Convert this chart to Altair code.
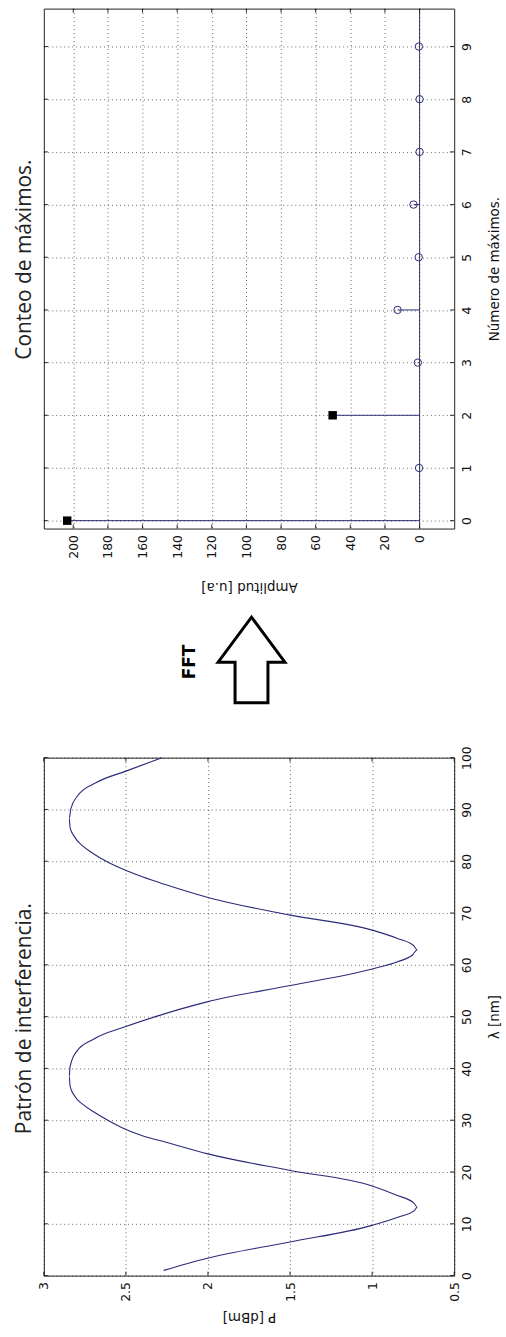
import altair as alt
import pandas as pd

# Interference pattern: optical power versus wavelength
wavelength_nm = [1, 3.3, 6.5, 9.7, 11.4, 12.5, 13.2, 14.0, 15.5, 17.3, 20.3, 23.5,
                 25.7, 27.0, 28.5, 30.0, 31.5, 33.0, 34.8, 36.6, 38.5, 40.4, 43.3,
                 45.6, 48.1, 50.1, 52.9, 56.0, 59.2, 60.6, 61.9, 62.9, 63.8, 65.1,
                 66.7, 69.6, 73.0, 75.5, 77.0, 78.5, 80.0, 81.5, 83.0, 84.8, 86.5,
                 88.3, 90.2, 92.8, 95.2, 97.4, 100]
power_dbm = [2.27, 2.01, 1.50, 1.00, 0.83, 0.745, 0.725, 0.745, 0.85, 1.00, 1.50, 2.00,
             2.25, 2.40, 2.52, 2.61, 2.69, 2.76, 2.815, 2.84, 2.845, 2.84, 2.80,
             2.70, 2.50, 2.31, 2.00, 1.50, 1.00, 0.845, 0.755, 0.725, 0.75, 0.845,
             1.00, 1.50, 2.00, 2.26, 2.40, 2.52, 2.62, 2.70, 2.765, 2.815, 2.84,
             2.845, 2.835, 2.79, 2.68, 2.50, 2.28]

# FFT magnitude for each harmonic index
max_index = [0, 1, 2, 3, 4, 5, 6, 7, 8, 9]
amplitude = [203.5, 0.3, 50.2, 1.0, 12.7, 0.5, 3.5, 0.0, 0.0, 0.4]
peak_index = [0, 2]

# Tick values
lam_ticks = [0, 10, 20, 30, 40, 50, 60, 70, 80, 90, 100]
p_ticks = [0.5, 1, 1.5, 2, 2.5, 3]
n_ticks = [0, 1, 2, 3, 4, 5, 6, 7, 8, 9]
amp_ticks = [0, 20, 40, 60, 80, 100, 120, 140, 160, 180, 200]

LINE = "#2b2b7a"
FRAME = "#222222"
W, H_TOP, H_BOT = 412, 522, 520
GAP = 230
TICK = 4

axis_style = dict(
    grid=True, gridColor="#000000", gridOpacity=0.6, gridDash=[1, 3], gridWidth=1,
    ticks=False, tickSize=0, domain=False,
    labelFont="DejaVu Sans", labelFontSize=12.5, labelColor="#111111",
    labelFlush=False, labelOverlap=False,
    titleFont="DejaVu Sans", titleFontSize=13.5, titleFontWeight="normal",
    titleColor="#111111",
)


def bottom_axis(values, title, title_pad, fmt):
    return alt.Axis(orient="bottom", values=values, format=fmt, labelAngle=270,
                    labelAlign="right", labelBaseline="middle", labelPadding=6,
                    title=title, titleAngle=180, titleBaseline="bottom",
                    titlePadding=title_pad, **axis_style)


def right_axis(values, title, fmt):
    return alt.Axis(orient="right", values=values, format=fmt, labelAngle=270,
                    labelAlign="center", labelBaseline="top", labelPadding=6,
                    title=title, titleAngle=270, titleBaseline="top",
                    titlePadding=15, **axis_style)


def inner_ticks(xname, xvals, xenc, yname, yvals, yenc, h):
    """Short inward tick marks on all four sides of the frame."""
    xdf = pd.DataFrame({xname: xvals})
    ydf = pd.DataFrame({yname: yvals})
    rx = alt.Chart(xdf).mark_rule(color=FRAME, strokeWidth=1)
    ry = alt.Chart(ydf).mark_rule(color=FRAME, strokeWidth=1)
    return [
        rx.encode(x=xenc, y=alt.value(0), y2=alt.value(TICK)),
        rx.encode(x=xenc, y=alt.value(h - TICK), y2=alt.value(h)),
        ry.encode(y=yenc, x=alt.value(0), x2=alt.value(TICK)),
        ry.encode(y=yenc, x=alt.value(W - TICK), x2=alt.value(W)),
    ]


def free_text(label, x, y, **style):
    return alt.Chart(alt.Data(values=[{"label": label}])).mark_text(
        align="center", baseline="middle", **style
    ).encode(x=alt.value(x), y=alt.value(y), text="label:N")


# ---------- upper panel: harmonic count ----------
amp_scale = alt.Scale(domain=[-20, 217], reverse=True, nice=False, zero=False)
n_scale = alt.Scale(domain=[-0.15, 9.72], nice=False, zero=False)
X_amp = alt.X("amp:Q", scale=amp_scale,
              axis=bottom_axis(amp_ticks, "Amplitud [u.a]", 21, "d"))
Y_n = alt.Y("n:Q", scale=n_scale, axis=right_axis(n_ticks, "Número de máximos.", "d"))

fft = pd.DataFrame({"n": max_index, "amp": amplitude, "base": [0] * len(max_index)})
fft["peak"] = fft["n"].isin(peak_index)

baseline = alt.Chart(pd.DataFrame({"amp": [0]})).mark_rule(
    color="#3a3a5a", strokeWidth=1).encode(x=X_amp)
stems = alt.Chart(fft).mark_rule(color=LINE, strokeWidth=1).encode(
    x=X_amp, x2="base:Q", y=Y_n)
circles = alt.Chart(fft).transform_filter("!datum.peak").mark_point(
    shape="circle", filled=False, color=LINE, size=55, strokeWidth=1, opacity=1
).encode(x=X_amp, y=Y_n)
squares = alt.Chart(fft).transform_filter("datum.peak").mark_point(
    shape="square", filled=True, color="#000000", size=72, opacity=1
).encode(x=X_amp, y=Y_n)

top = alt.layer(
    baseline, stems, circles, squares,
    *inner_ticks("amp", amp_ticks, X_amp, "n", n_ticks, Y_n, H_TOP),
).properties(width=W, height=H_TOP)

# ---------- lower panel: interference pattern ----------
p_scale = alt.Scale(domain=[0.5, 3], reverse=True, nice=False, zero=False)
lam_scale = alt.Scale(domain=[0, 100], nice=False, zero=False)
X_p = alt.X("p:Q", scale=p_scale, axis=bottom_axis(p_ticks, "P [dBm]", 8, "~g"))
Y_lam = alt.Y("lam:Q", scale=lam_scale, axis=right_axis(lam_ticks, "λ [nm]", "d"))

pattern = pd.DataFrame({"lam": wavelength_nm, "p": power_dbm})
curve = alt.Chart(pattern).mark_line(
    color=LINE, strokeWidth=1.1, interpolate="monotone", orient="horizontal"
).encode(x=X_p, y=Y_lam, order="lam:Q")

# Panel titles, set vertically to the left of each frame
# (offsets are measured from the top-left corner of the lower frame)
TOP_OFF = -(H_TOP + GAP)
title_font = dict(angle=270, font="Open Sans", fontSize=21, color="#222222")
title_top = free_text("Conteo de máximos.", -19, TOP_OFF + 252, **title_font)
title_bot = free_text("Patrón de interferencia.", -19, 262, **title_font)

# FFT arrow between the panels (outline block arrow pointing up)
arrow_path = ("M0,-1 L0.78,0.05 L0.384,0.05 L0.384,1 L-0.384,1 "
              "L-0.384,0.05 L-0.78,0.05 Z")
arrow = alt.Chart(alt.Data(values=[{"k": 1}])).mark_point(
    shape=arrow_path, filled=False, stroke="#000000", strokeWidth=3,
    size=86 * 86, opacity=1
).encode(x=alt.value(208.5), y=alt.value(-98))
fft_label = free_text("FFT", 147, -96, angle=270, font="DejaVu Sans", fontSize=17,
                      fontWeight="bold", color="#000000")

# keeps a small margin above and to the left of the upper frame
corner = alt.Chart(alt.Data(values=[{"k": 1}])).mark_rule(
    strokeWidth=0.01, strokeOpacity=0
).encode(x=alt.value(-43), x2=alt.value(-43),
         y=alt.value(TOP_OFF - 5), y2=alt.value(TOP_OFF - 4))

bottom = alt.layer(
    curve,
    *inner_ticks("p", p_ticks, X_p, "lam", lam_ticks, Y_lam, H_BOT),
    title_top, title_bot, arrow, fft_label, corner,
).properties(width=W, height=H_BOT)

chart = alt.vconcat(top, bottom, spacing=GAP, bounds="flush").properties(
    padding={"left": 0, "top": 0, "right": 4, "bottom": 12}, background="white"
).configure_view(stroke=FRAME, strokeWidth=1)

chart.save("out.html", embed_options={"renderer": "svg", "actions": False})
